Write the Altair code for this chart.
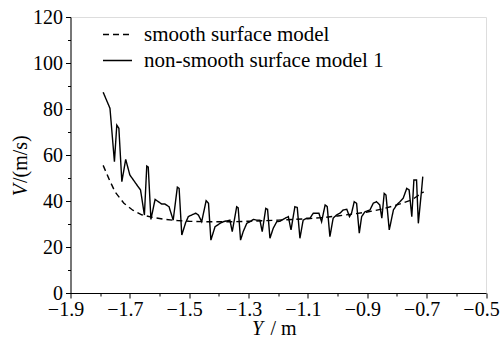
import altair as alt
import pandas as pd

# ---- data ----
series_names = ["smooth surface model", "non-smooth surface model 1"]

smooth_y = [-1.79, -1.77, -1.75, -1.72, -1.69, -1.66, -1.62, -1.58, -1.54, -1.50,
            -1.45, -1.40, -1.35, -1.30, -1.25, -1.20, -1.15, -1.10, -1.05, -1.00,
            -0.95, -0.90, -0.85, -0.80, -0.75, -0.71]
smooth_v = [55.5, 49.5, 44.0, 39.0, 36.0, 34.0, 32.8, 32.0, 31.5, 31.2,
            31.0, 31.0, 31.0, 31.2, 31.4, 31.7, 32.0, 32.3, 32.8, 33.5,
            34.3, 35.2, 36.5, 38.3, 40.5, 44.0]

rough_y = [-1.790, -1.767, -1.752, -1.744, -1.737, -1.727, -1.714, -1.700, -1.672, -1.664,
           -1.651, -1.643, -1.638, -1.629, -1.615, -1.593, -1.582, -1.568, -1.554, -1.540,
           -1.534, -1.525, -1.512, -1.503, -1.492, -1.478, -1.469, -1.458, -1.443, -1.435,
           -1.427, -1.413, -1.396, -1.385, -1.363, -1.355, -1.340, -1.335, -1.327, -1.318,
           -1.306, -1.295, -1.284, -1.273, -1.262, -1.254, -1.242, -1.236, -1.228, -1.217,
           -1.205, -1.194, -1.177, -1.166, -1.157, -1.144, -1.136, -1.127, -1.116, -1.104,
           -1.093, -1.082, -1.071, -1.063, -1.054, -1.042, -1.035, -1.026, -1.015, -1.004,
           -0.992, -0.981, -0.969, -0.960, -0.953, -0.944, -0.936, -0.927, -0.919, -0.908,
           -0.891, -0.880, -0.869, -0.858, -0.851, -0.843, -0.837, -0.826, -0.812, -0.801,
           -0.790, -0.779, -0.767, -0.759, -0.750, -0.743, -0.734, -0.728, -0.717, -0.713]
rough_v = [87.3, 80.3, 57.1, 73.0, 71.6, 48.4, 58.1, 51.3, 46.2, 44.8,
           33.9, 55.2, 54.7, 32.0, 40.7, 38.7, 38.7, 37.5, 31.7, 46.0,
           45.5, 25.2, 30.6, 33.2, 33.9, 34.7, 33.9, 31.0, 40.1, 39.0,
           23.0, 28.8, 30.3, 31.0, 31.7, 26.7, 37.5, 37.0, 23.0, 26.7,
           30.3, 31.0, 32.0, 31.7, 31.7, 26.7, 36.8, 36.4, 23.8, 28.1,
           31.0, 31.2, 32.5, 33.2, 27.4, 37.5, 37.2, 23.8, 31.7, 32.5,
           32.5, 34.7, 34.7, 34.7, 31.0, 38.3, 37.6, 24.5, 32.5, 33.9,
           34.7, 36.1, 36.4, 33.2, 34.7, 39.7, 39.0, 26.0, 33.2, 35.3,
           36.1, 39.0, 39.7, 38.3, 32.5, 43.3, 42.6, 27.4, 36.1, 38.3,
           39.7, 41.2, 45.5, 44.8, 33.2, 49.1, 49.1, 30.3, 44.8, 50.6]

x_ticks = [round(-1.9 + 0.1 * i, 1) for i in range(15)]
y_ticks = [10 * i for i in range(13)]

df = pd.concat([
    pd.DataFrame({"Y": smooth_y, "V": smooth_v, "model": series_names[0], "o": range(len(smooth_y))}),
    pd.DataFrame({"Y": rough_y, "V": rough_v, "model": series_names[1], "o": range(len(rough_y))}),
])

FONT = "Liberation Serif"
FS = 20
LFS = 21

x_axis = alt.Axis(
    values=x_ticks, title=None, grid=False,
    labelExpr="abs(round(datum.value*10)) % 2 == 1 ? datum.label : ''",
    format=".1f", labelFont=FONT, labelFontSize=FS, labelColor="black",
    labelPadding=1, labelFlush=False, labelOverlap=False, labelBound=False,
    labelOffset=-5,
    tickSize={"condition": {"test": "abs(round(datum.value*10)) % 2 == 1", "value": 5}, "value": 3},
    tickColor="black", domainColor="black", tickWidth=1, domainWidth=1,
)
y_axis = alt.Axis(
    values=y_ticks, title=None, grid=False,
    labelExpr="datum.value % 20 == 0 ? datum.label : ''",
    labelFont=FONT, labelFontSize=FS, labelColor="black",
    labelPadding=3, labelFlush=False, labelOverlap=False,
    tickSize={"condition": {"test": "datum.value % 20 == 0", "value": 5}, "value": 3},
    tickColor="black", domainColor="black", tickWidth=1, domainWidth=1,
)

lines = alt.Chart(df).mark_line(color="black", strokeWidth=1.4, clip=False).encode(
    x=alt.X("Y:Q", scale=alt.Scale(domain=[-1.9, -0.5], nice=False, zero=False), axis=x_axis),
    y=alt.Y("V:Q", scale=alt.Scale(domain=[0, 120], nice=False, zero=False), axis=y_axis),
    order="o:Q",
    strokeDash=alt.StrokeDash(
        "model:N",
        scale=alt.Scale(domain=series_names, range=[[6, 4], [1, 0]]),
        legend=alt.Legend(
            title=None, orient="none", legendX=31.5, legendY=2,
            symbolType="stroke", symbolSize=841, symbolStrokeWidth=1.4,
            symbolStrokeColor="black", labelFont=FONT, labelFontSize=LFS,
            labelColor="black", labelOffset=11, rowPadding=-8, labelLimit=0,
        ),
    ),
)

one = pd.DataFrame({"a": [0]})
ytitle_v = alt.Chart(one).mark_text(
    text="V", font=FONT, fontSize=FS, fontStyle="italic", angle=270,
    align="right", baseline="alphabetic", color="black",
).encode(x=alt.value(-44), y=alt.value(167))
ytitle_rest = alt.Chart(one).mark_text(
    text="/(m/s)", font=FONT, fontSize=FS, angle=270,
    align="left", baseline="alphabetic", color="black",
).encode(x=alt.value(-44), y=alt.value(166))
xtitle_y = alt.Chart(one).mark_text(
    text="Y", font=FONT, fontSize=FS, fontStyle="italic",
    align="right", baseline="alphabetic", color="black",
).encode(x=alt.value(192.5), y=alt.value(317.5))
xtitle_rest = alt.Chart(one).mark_text(
    text="/ m", font=FONT, fontSize=FS,
    align="left", baseline="alphabetic", color="black",
).encode(x=alt.value(200), y=alt.value(317.5))

chart = alt.layer(lines, ytitle_v, ytitle_rest, xtitle_y, xtitle_rest).properties(
    width=415.5, height=276,
    autosize=alt.AutoSizeParams(type="none"),
    padding={"left": 70.5, "top": 17, "right": 14, "bottom": 44},
).configure_view(stroke=None).configure(background="white")

chart.save("out.html", embed_options={"renderer": "svg", "actions": False})
